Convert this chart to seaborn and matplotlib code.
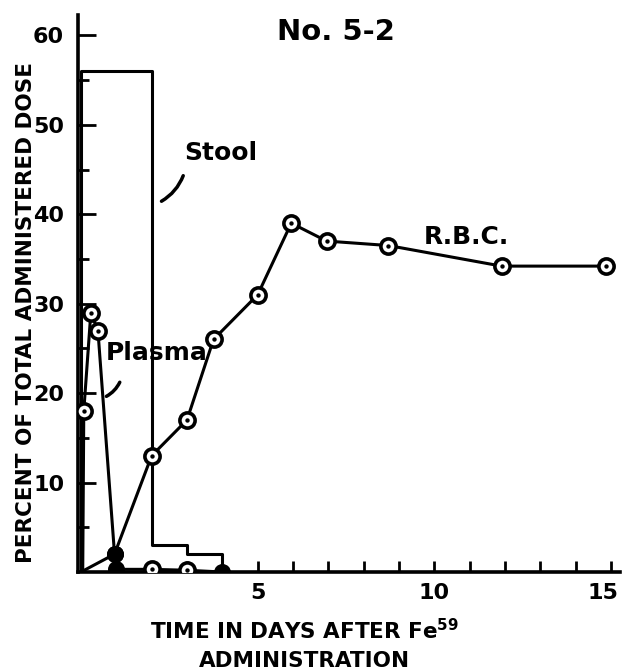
import numpy as np
import pandas as pd
import matplotlib
matplotlib.use('Agg')
import matplotlib.pyplot as plt
import matplotlib.transforms as mtransforms
import seaborn as sns

# values (days after Fe59, percent of dose)
stool_days = [0, 0, 2, 3, 4]
stool_vals = [0, 56, 3, 2, 0]

plasma_days = [0.05, 0.08, 0.28, 0.48, 0.95, 1.0, 2.0, 3.0, 4.0]
plasma_vals = [0.0, 18.0, 29.0, 27.0, 2.0, 0.3, 0.3, 0.2, 0.0]
plasma_mark = ['none', 'ring', 'ring', 'ring', 'filled', 'filled', 'ring', 'ring', 'filled']

rbc_days = [0.0, 0.95, 2.0, 3.0, 3.75, 5.0, 5.95, 6.95, 8.7, 11.9, 14.85]
rbc_vals = [0.0, 2.0, 13.0, 17.0, 26.0, 31.0, 39.0, 37.0, 36.5, 34.2, 34.2]
rbc_mark = ['none', 'filled', 'ring', 'ring', 'ring', 'ring', 'ring', 'ring', 'ring', 'ring', 'ring']

x_labels = ['5', '10', '15']

sns.set_style('ticks')
plt.rcParams['font.family'] = ['DejaVu Sans']
plt.rcParams['font.weight'] = 'bold'
plt.rcParams['text.color'] = 'black'
plt.rcParams['axes.labelcolor'] = 'black'
plt.rcParams['xtick.color'] = 'black'
plt.rcParams['ytick.color'] = 'black'
plt.rcParams['axes.edgecolor'] = 'black'

fig = plt.figure(figsize=(6.25, 6.71), dpi=100)
ax = fig.add_axes([0.125, 0.1475, 0.867, 0.8305])

lw = 2.2
stool = pd.DataFrame({'day': stool_days, 'pct': stool_vals})
sns.lineplot(data=stool, x='day', y='pct', sort=False, estimator=None,
             drawstyle='steps-post', color='black', lw=lw, ax=ax)

plasma = pd.DataFrame({'day': plasma_days, 'pct': plasma_vals, 'mark': plasma_mark})
rbc = pd.DataFrame({'day': rbc_days, 'pct': rbc_vals, 'mark': rbc_mark})

for df in (plasma, rbc):
    sns.lineplot(data=df, x='day', y='pct', sort=False, estimator=None,
                 color='black', lw=lw, ax=ax)
    rings = df[df['mark'] == 'ring']
    filled = df[df['mark'] == 'filled']
    # bullseye markers: white ring with black centre dot
    sns.scatterplot(data=rings, x='day', y='pct', s=120, color='white',
                    edgecolor='black', linewidth=2.6, zorder=3, ax=ax)
    sns.scatterplot(data=rings, x='day', y='pct', s=10, color='black',
                    edgecolor='black', linewidth=0, zorder=4, ax=ax)
    sns.scatterplot(data=filled, x='day', y='pct', s=150, color='black',
                    edgecolor='black', linewidth=0, zorder=4, ax=ax)

ax.set_xlim(-0.08, 15.25)
ax.set_ylim(0, 62.3)
sns.despine(ax=ax)
for sp in ('left', 'bottom'):
    ax.spines[sp].set_linewidth(2.6)

ax.set_xticks(range(0, 16))
ax.set_xticklabels(['' if str(t) not in x_labels else str(t) for t in range(0, 16)])
ax.set_yticks(range(10, 61, 10))
ax.set_yticks(range(5, 60, 10), minor=True)
ax.tick_params(axis='both', direction='in', width=2, labelsize=16, color='black')
ax.tick_params(axis='y', which='major', length=13, pad=10)
ax.tick_params(axis='y', which='minor', length=8, width=2, direction='in')
ax.tick_params(axis='x', length=8, pad=8)

# nudge the last x label inside the figure
shift = mtransforms.ScaledTranslation(-6 / 72, 0, fig.dpi_scale_trans)
last = ax.get_xticklabels()[15]
last.set_transform(last.get_transform() + shift)

ax.set_xlabel('TIME IN DAYS AFTER Fe$^{\\mathbf{59}}$\nADMINISTRATION',
              fontsize=15.5, fontweight='bold', linespacing=1.5)
ax.xaxis.set_label_coords(0.417, -0.082, transform=ax.transAxes)
ax.xaxis.label.set_verticalalignment('top')
ax.set_ylabel('PERCENT OF TOTAL ADMINISTERED DOSE', fontsize=15.5,
              fontweight='bold')
ax.yaxis.set_label_coords(-0.078, 0.465, transform=ax.transAxes)

ax.text(7.2, 60.4, 'No. 5-2', fontsize=21, ha='center', va='center')
ax.text(3.97, 46.9, 'Stool', fontsize=18, ha='center', va='center')
ax.text(2.15, 24.5, 'Plasma', fontsize=18, ha='center', va='center')
ax.text(10.9, 37.4, 'R.B.C.', fontsize=18, ha='center', va='center')

leader = dict(arrowstyle='-', lw=2.5, color='black', connectionstyle='arc3,rad=-0.2')
ax.annotate('', xy=(2.21, 41.3), xytext=(2.92, 44.6), arrowprops=leader)
ax.annotate('', xy=(0.65, 19.5), xytext=(1.13, 21.5), arrowprops=leader)

fig.savefig('out.png', dpi=100)
